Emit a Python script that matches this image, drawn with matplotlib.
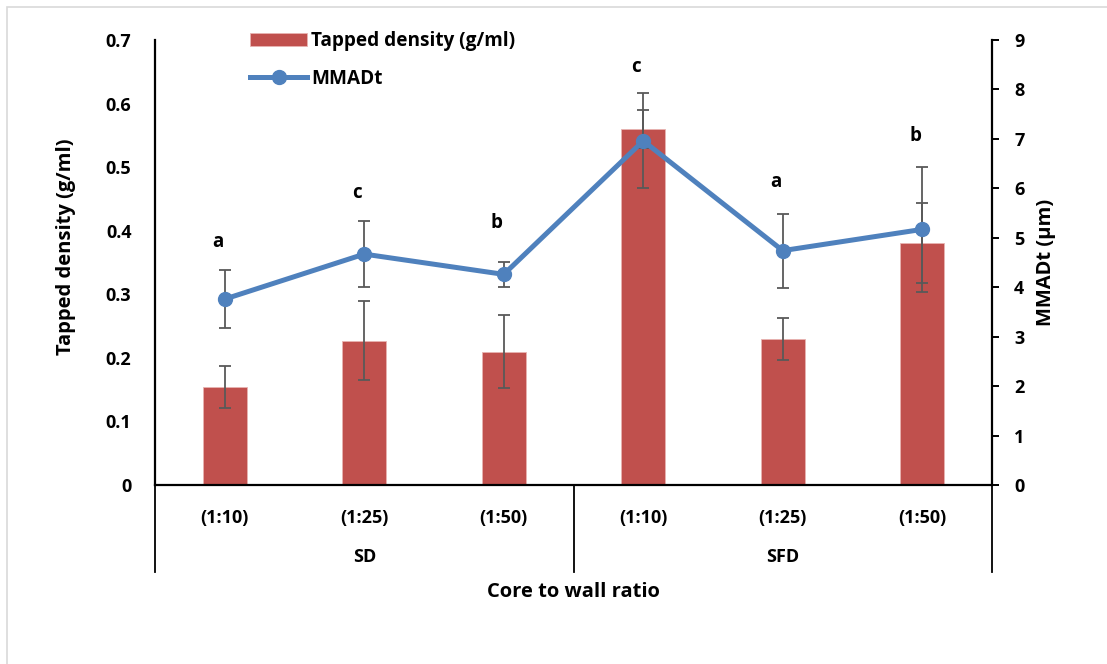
import numpy as np
import matplotlib
matplotlib.use("Agg")
import matplotlib.pyplot as plt
from matplotlib.patches import Rectangle

plt.rcParams["font.family"] = ["Open Sans", "DejaVu Sans"]
plt.rcParams["font.weight"] = "bold"

# data
ratios = ["(1:10)", "(1:25)", "(1:50)", "(1:10)", "(1:25)", "(1:50)"]
groups = ["SD", "SFD"]
tapped_density = [0.154, 0.227, 0.210, 0.560, 0.229, 0.381]
tapped_err = [0.033, 0.062, 0.057, 0.030, 0.033, 0.063]
mmadt = [3.76, 4.67, 4.26, 6.96, 4.74, 5.17]
mmadt_err = [0.59, 0.67, 0.26, 0.96, 0.75, 1.27]
letters = ["a", "c", "b", "c", "a", "b"]
letter_y = [4.92, 5.91, 5.30, 8.45, 6.13, 7.06]

BAR_COL = "#C0504D"
LINE_COL = "#4F81BD"
ERR_COL = "#595959"

fig = plt.figure(figsize=(11.07, 6.64), dpi=100)
ax = fig.add_axes([155 / 1107, 1 - 485 / 664, 837 / 1107, 445 / 664])
ax2 = ax.twinx()

x = np.arange(len(ratios))
ax.bar(x, tapped_density, width=0.315, color=BAR_COL, edgecolor="#e8b4b2", lw=0.6,
       label="Tapped density (g/ml)", zorder=2)
ax.errorbar(x, tapped_density, yerr=tapped_err, fmt="none", ecolor=ERR_COL,
            elinewidth=1.3, capsize=4, capthick=1.3, zorder=3)

ax2.errorbar(x, mmadt, yerr=mmadt_err, fmt="none", ecolor=ERR_COL,
             elinewidth=1.3, capsize=4, capthick=1.3, zorder=2)
ax2.plot(x, mmadt, color=LINE_COL, lw=3.6, marker="o", ms=10, label="MMADt", zorder=3)

for xi, lt, ly in zip(x, letters, letter_y):
    ax2.text(xi - 0.05, ly, lt, ha="center", va="center", fontsize=13.5, fontweight="bold")

ax.set_xlim(-0.5, 5.5)
ax.set_ylim(0, 0.7)
ax2.set_ylim(0, 9)
ax.set_yticks(np.arange(0, 0.71, 0.1))
ax.set_yticklabels(["0"] + [f"{v:.1f}" for v in np.arange(0.1, 0.71, 0.1)])
ax2.set_yticks(range(10))

for a in (ax, ax2):
    a.spines["top"].set_visible(False)
    for s in ("left", "right", "bottom"):
        a.spines[s].set_linewidth(1.6)
ax2.spines["left"].set_visible(False)
ax2.spines["bottom"].set_visible(False)
ax.spines["right"].set_visible(False)

ax.tick_params(axis="y", length=0, pad=17, labelsize=13)
ax2.tick_params(axis="y", length=5, width=1.4, direction="out", pad=11, labelsize=13)

# two-level category axis
ax.set_xticks(x)
ax.set_xticklabels(ratios, fontsize=13, fontweight="bold")
ax.tick_params(axis="x", length=0, pad=17)
trans = ax.get_xaxis_transform()
for xs in (-0.5, 2.5, 5.5):
    ax.plot([xs, xs], [0, -87 / 445], transform=trans, color="black", lw=1.3, clip_on=False)
for gi, g in enumerate(groups):
    ax.text(1 + 3 * gi, -72 / 445, g, transform=trans, ha="center", va="center",
            fontsize=13, fontweight="bold")
ax.text(2.5, -107 / 445, "Core to wall ratio", transform=trans, ha="center", va="center",
        fontsize=14.5, fontweight="bold")

ax.set_ylabel("Tapped density (g/ml)", fontsize=14.5, fontweight="bold")
ax.yaxis.set_label_coords(-79 / 837, 0.535)
ax2.set_ylabel("MMADt (µm)", fontsize=14.5, fontweight="bold", labelpad=8)

h1, l1 = ax.get_legend_handles_labels()
h2, l2 = ax2.get_legend_handles_labels()
fig.legend(h1 + h2, l1 + l2, loc="upper left", bbox_to_anchor=(250 / 1107, 1 - 31 / 664),
           frameon=False, handlelength=3.0, handletextpad=0.2,
           labelspacing=0.95, borderpad=0, borderaxespad=0, prop={"weight": "bold", "size": 13.7})

# light chart-area frame
fig.patches.append(Rectangle((7 / 1107, -0.05), 1.2, 1 - 7 / 664 + 0.05, transform=fig.transFigure,
                             fill=False, edgecolor="#d9d9d9", lw=1.2))

fig.savefig("out.png", dpi=100)
